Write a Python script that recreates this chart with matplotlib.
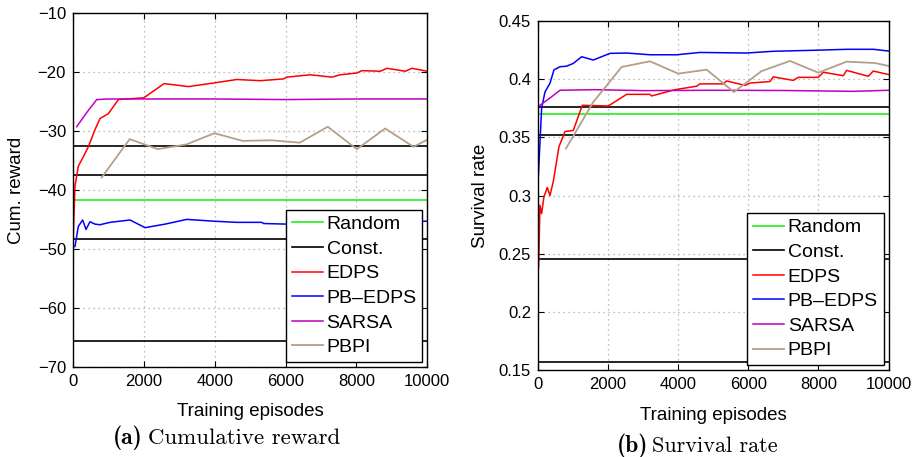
import matplotlib
matplotlib.use("Agg")
import matplotlib.pyplot as plt

plt.rcParams['font.family'] = ['Liberation Sans', 'DejaVu Sans']

# ---- (a) cumulative reward ----
rew_random = -41.7
rew_const = [-32.5, -37.4, -48.3, -65.6]

edps_rew_x = [10, 56, 150, 300, 433, 621, 763, 998, 1281, 2000, 2571, 3258, 3964,
              4623, 5282, 5942, 6036, 6695, 7307, 7542, 8013, 8154, 8672, 8860,
              9378, 9567, 10000]
edps_rew_y = [-47.6, -39.4, -36.0, -34.3, -32.7, -29.8, -27.9, -27.1, -24.7, -24.4,
              -22.0, -22.5, -21.9, -21.3, -21.5, -21.2, -20.9, -20.5, -20.9, -20.5,
              -20.2, -19.8, -19.9, -19.4, -19.9, -19.4, -19.9]

pbedps_rew_x = [10, 56, 150, 273, 367, 480, 621, 763, 1045, 1610, 2034, 2599, 3211,
                3964, 4623, 5330, 5380, 6036, 6700, 7400, 8000, 8800, 9500, 10000]
pbedps_rew_y = [-49.6, -49.6, -46.2, -45.1, -46.7, -45.4, -45.8, -45.9, -45.5, -45.1,
                -46.4, -45.8, -45.0, -45.3, -45.5, -45.5, -45.7, -45.8, -45.6, -45.5,
                -45.4, -45.5, -45.4, -45.3]

sarsa_rew_x = [105, 400, 670, 1000, 2000, 4000, 6000, 8000, 10000]
sarsa_rew_y = [-29.3, -26.8, -24.7, -24.6, -24.6, -24.6, -24.7, -24.6, -24.6]

pbpi_rew_x = [810, 1600, 2390, 3200, 3990, 4790, 5600, 6400, 7190, 8010, 8810, 9610, 10000]
pbpi_rew_y = [-37.9, -31.4, -33.1, -32.3, -30.4, -31.7, -31.6, -32.0, -29.3, -33.1,
              -29.6, -32.7, -31.5]

# ---- (b) survival rate ----
surv_random = 0.3701
surv_const = [0.3759, 0.3518, 0.2456, 0.1571]

edps_surv_x = [19, 57, 105, 171, 266, 342, 437, 599, 770, 1008, 1264, 2006, 2529,
               3194, 3240, 3907, 4525, 4620, 5285, 5380, 5903, 6046, 6616, 6711, 7281,
               7424, 7994, 8137, 8707, 8802, 9420, 9563, 10000]
edps_surv_y = [0.2387, 0.2917, 0.2845, 0.299, 0.307, 0.300, 0.312, 0.342, 0.355, 0.356,
               0.3776, 0.377, 0.387, 0.387, 0.3856, 0.391, 0.394, 0.396, 0.396, 0.3985,
               0.3947, 0.3967, 0.398, 0.402, 0.399, 0.4016, 0.4016, 0.406, 0.403, 0.4076,
               0.4025, 0.407, 0.404]

pbedps_surv_x = [10, 105, 200, 342, 456, 627, 817, 1008, 1246, 1578, 2053, 2529, 3194,
                 3954, 4620, 5951, 6711, 8042, 8802, 9563, 10000]
pbedps_surv_y = [0.316, 0.375, 0.389, 0.3964, 0.408, 0.4107, 0.4112, 0.4136, 0.4193,
                 0.4165, 0.4222, 0.4225, 0.421, 0.421, 0.423, 0.4225, 0.424, 0.425,
                 0.4257, 0.4257, 0.4242]

sarsa_surv_x = [57, 350, 627, 1600, 3000, 5000, 7000, 9000, 10000]
sarsa_surv_y = [0.3776, 0.384, 0.3905, 0.391, 0.3902, 0.3905, 0.3903, 0.3896, 0.3905]

pbpi_surv_x = [798, 1578, 2386, 3194, 4002, 4810, 5589, 6378, 7186, 7994, 8802, 9610, 10000]
pbpi_surv_y = [0.3404, 0.3804, 0.4105, 0.4154, 0.4048, 0.4082, 0.389, 0.407, 0.4157,
               0.4056, 0.4151, 0.4139, 0.4114]

labels = ["Random", "Const.", "EDPS", "PB\u2013EDPS", "SARSA", "PBPI"]
c_green = "#22ee22"
c_brown = "#b49f89"

fig = plt.figure(figsize=(9.18, 4.57), dpi=100)
ax1 = fig.add_axes([0.0795, 0.197, 0.386, 0.775])
ax2 = fig.add_axes([0.586, 0.190, 0.382, 0.764])


def draw(ax, rnd, consts, ex, ey, px, py, sx, sy, bx, by):
    ax.grid(True, linestyle=(0, (1, 3)), color='#a8a8a8', linewidth=0.9)
    ax.set_axisbelow(True)
    h_r = ax.axhline(rnd, color=c_green, lw=1.2)
    for c in consts:
        h_c = ax.axhline(c, color='k', lw=1.2)
    h_e, = ax.plot(ex, ey, color='r', lw=1.1)
    h_p, = ax.plot(px, py, color='b', lw=1.1)
    h_s, = ax.plot(sx, sy, color='m', lw=1.1)
    h_b, = ax.plot(bx, by, color=c_brown, lw=1.3)
    ax.set_xlim(0, 10000)
    ax.set_xticks([0, 2000, 4000, 6000, 8000, 10000])
    ax.tick_params(direction='in', top=True, right=True, length=4, labelsize=12, pad=5)
    for s in ax.spines.values():
        s.set_linewidth(1.0)
    leg = ax.legend([h_r, h_c, h_e, h_p, h_s, h_b], labels, loc='lower right',
                    fontsize=14, fancybox=False, framealpha=1, edgecolor='k',
                    handlelength=1.6, handletextpad=0.2, labelspacing=0.36,
                    borderpad=0.3, borderaxespad=0.25)
    leg.get_frame().set_linewidth(1.0)


draw(ax1, rew_random, rew_const, edps_rew_x, edps_rew_y, pbedps_rew_x, pbedps_rew_y,
     sarsa_rew_x, sarsa_rew_y, pbpi_rew_x, pbpi_rew_y)
ax1.set_ylim(-70, -10)
ax1.set_yticks(range(-70, -9, 10))
ax1.set_ylabel("Cum. reward", fontsize=13.5, labelpad=9)
ax1.set_xlabel("Training episodes", fontsize=13.5, labelpad=10)

draw(ax2, surv_random, surv_const, edps_surv_x, edps_surv_y, pbedps_surv_x, pbedps_surv_y,
     sarsa_surv_x, sarsa_surv_y, pbpi_surv_x, pbpi_surv_y)
ax2.set_ylim(0.15, 0.45)
ax2.set_yticks([0.15, 0.2, 0.25, 0.3, 0.35, 0.4, 0.45])
ax2.set_yticklabels(["0.15", "0.2", "0.25", "0.3", "0.35", "0.4", "0.45"])
ax2.set_ylabel("Survival rate", fontsize=13.5, labelpad=7)
ax2.set_xlabel("Training episodes", fontsize=13.5, labelpad=11)

# captions
fig.text(113 / 918, 1 - 438 / 457, "(a)", fontname='cmb10', fontsize=17, va='center', ha='left')
fig.text(148 / 918, 1 - 438 / 457, "Cumulative reward", fontname='cmr10', fontsize=16.5,
         va='center', ha='left')
fig.text(617 / 918, 1 - 446 / 457, "(b)", fontname='cmb10', fontsize=17, va='center', ha='left')
fig.text(652 / 918, 1 - 446 / 457, "Survival rate", fontname='cmr10', fontsize=16,
         va='center', ha='left')

fig.savefig("out.png", dpi=100)
